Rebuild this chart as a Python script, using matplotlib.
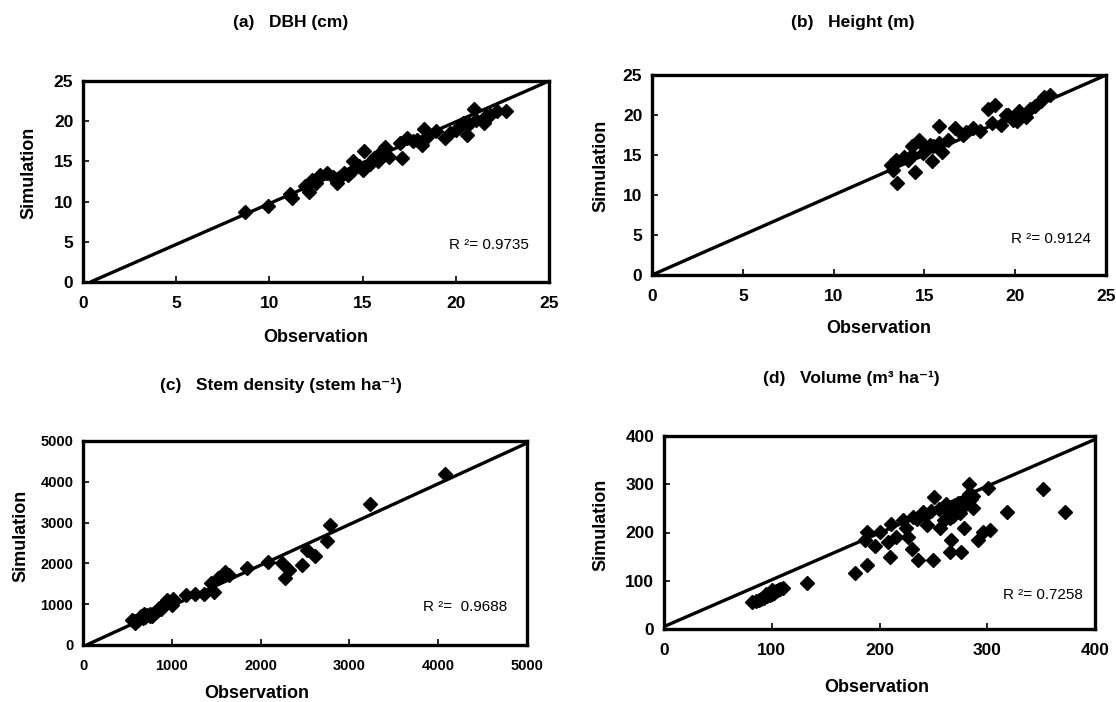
import matplotlib
matplotlib.use("Agg")
import matplotlib.pyplot as plt

plt.rcParams["font.family"] = ["Liberation Sans", "DejaVu Sans"]

# (a) DBH (cm)
dbh_obs = [8.7, 9.9, 11.2, 11.1, 11.9, 12.1, 12.3, 12.7, 13.1, 13.6, 13.8, 14.0,
           14.2, 14.5, 14.5, 14.8, 15.0, 15.1, 15.4, 15.8, 16.2, 16.4, 17.1, 17.0,
           17.4, 17.7, 18.2, 18.3, 18.5, 18.95, 19.4, 19.7, 20.0, 20.2, 20.6, 20.7,
           21.0, 21.1, 21.5, 21.85, 22.2, 22.7, 21.6, 20.4, 17.9, 15.8, 15.6, 13.4, 12.5]
dbh_sim = [8.75, 9.4, 10.4, 10.9, 11.9, 11.25, 12.7, 13.3, 13.6, 12.3, 13.0, 13.5,
           13.25, 13.9, 15.0, 14.4, 13.9, 16.25, 14.7, 15.0, 16.75, 15.6, 15.4, 17.25,
           17.9, 17.5, 17.1, 19.0, 18.1, 18.75, 17.9, 18.5, 18.96, 19.4, 18.3, 19.6,
           21.5, 20.2, 19.8, 20.8, 21.25, 21.25, 20.6, 19.8, 17.7, 15.8, 15.4, 13.0, 12.3]
dbh_line_x = [0.4, 25.0]
dbh_line_y = [0.0, 25.0]

# (b) Height (m)
ht_obs = [13.5, 14.5, 15.4, 13.15, 13.45, 13.85, 14.3, 14.3, 14.7, 15.0, 15.3, 15.8,
          15.8, 15.99, 16.3, 16.7, 17.1, 17.7, 18.05, 18.5, 18.9, 18.7, 19.2, 19.5,
          19.9, 20.2, 20.6, 20.8, 21.4, 21.6, 21.9, 21.1, 20.1, 17.3, 14.9, 14.1,
          13.25, 15.5, 19.6]
ht_sim = [11.56, 12.9, 14.2, 13.7, 14.4, 14.8, 15.0, 16.1, 16.9, 16.1, 16.3, 18.6,
          16.5, 15.4, 16.9, 18.4, 17.5, 18.4, 17.95, 20.7, 21.3, 19.0, 18.8, 20.0,
          19.4, 20.45, 19.8, 20.7, 21.7, 22.3, 22.5, 21.1, 19.2, 17.9, 15.2, 14.4,
          13.1, 16.1, 20.0]
ht_line_x = [0.0, 25.0]
ht_line_y = [0.0, 25.0]

# (c) Stem density (stem ha-1)
sd_obs = [4075, 3230, 2776, 2748, 2607, 2526, 2466, 2245, 2277, 2325, 2084, 1842,
          1641, 1601, 1521, 1440, 1480, 1360, 1259, 1159, 1018, 998, 950, 900, 880,
          850, 820, 800, 780, 750, 720, 700, 680, 650, 620, 600, 570, 550, 580, 960,
          920, 860, 1010, 690, 760]
sd_sim = [4191, 3465, 2937, 2541, 2170, 2335, 1964, 2005, 1634, 1840, 2046, 1881,
          1716, 1798, 1633, 1510, 1303, 1262, 1246, 1221, 1138, 973, 1100, 950, 880,
          850, 800, 780, 720, 700, 740, 680, 650, 700, 620, 580, 600, 620, 550, 1050,
          1000, 900, 1080, 760, 760]
sd_line_x = [40, 5000]
sd_line_y = [0, 4950]

# (d) Volume (m3 ha-1)
vol_obs = [82, 85, 88, 90, 93, 96, 98, 100, 102, 104, 106, 108, 110, 95, 100, 133,
           177, 188, 188, 187, 196, 200, 210, 211, 208, 215, 225, 226, 230, 231, 236,
           240, 244, 251, 250, 256, 262, 265, 268, 266, 265, 275, 278, 278, 276, 283,
           285, 287, 283, 291, 296, 301, 303, 318, 352, 372, 222, 235, 242, 248, 255,
           260, 270, 273, 280, 287, 260, 265, 272]
vol_sim = [55, 57, 60, 62, 65, 68, 70, 73, 75, 78, 80, 82, 85, 72, 80, 95, 117, 133,
           202, 185, 171, 202, 150, 217, 181, 191, 209, 191, 165, 233, 143, 242, 215,
           274, 143, 209, 260, 245, 235, 184, 160, 240, 255, 209, 159, 301, 270, 250,
           280, 184, 202, 293, 205, 243, 291, 243, 225, 228, 235, 245, 248, 252, 258,
           262, 265, 275, 225, 230, 248]
vol_line_x = [0, 400]
vol_line_y = [5, 393]

W, H = 1116.0, 702.0


def px(x, y):
    """figure pixel (from top-left) to figure fraction"""
    return x / W, 1 - y / H


panels = [
    dict(title="(a)   DBH (cm)", obs=dbh_obs, sim=dbh_sim, lx=dbh_line_x, ly=dbh_line_y,
         lim=25, ticks=[0, 5, 10, 15, 20, 25], r2="R ²= 0.9735",
         box=(83, 81, 549, 282), tsize=12.5,
         tpos=(291, 22), xlab=(316, 337), ylab=(29, 173), r2pos=(0.957, 0.184)),
    dict(title="(b)   Height (m)", obs=ht_obs, sim=ht_sim, lx=ht_line_x, ly=ht_line_y,
         lim=25, ticks=[0, 5, 10, 15, 20, 25], r2="R ²= 0.9124",
         box=(652, 75, 1106, 275), tsize=12.5,
         tpos=(853, 23), xlab=(879, 328), ylab=(601, 166), r2pos=(0.967, 0.18)),
    dict(title="(c)   Stem density (stem ha⁻¹)", obs=sd_obs, sim=sd_sim, lx=sd_line_x,
         ly=sd_line_y, lim=5000, ticks=[0, 1000, 2000, 3000, 4000, 5000],
         r2="R ²=  0.9688", box=(83, 441, 527, 645), tsize=10.5,
         tpos=(281, 385), xlab=(257, 693), ylab=(21, 536), r2pos=(0.955, 0.186)),
    dict(title="(d)   Volume (m³ ha⁻¹)", obs=vol_obs, sim=vol_sim, lx=vol_line_x,
         ly=vol_line_y, lim=400, ticks=[0, 100, 200, 300, 400], r2="R ²= 0.7258",
         box=(664, 436, 1095, 629), tsize=12.5,
         tpos=(851, 378), xlab=(877, 688), ylab=(601, 525), r2pos=(0.972, 0.176)),
]

fig = plt.figure(figsize=(11.16, 7.02), dpi=100)

for p in panels:
    x0, y0, x1, y1 = p["box"]
    ax = fig.add_axes([x0 / W, 1 - y1 / H, (x1 - x0) / W, (y1 - y0) / H])
    ax.plot(p["lx"], p["ly"], color="black", lw=2.4, solid_capstyle="butt")
    ax.plot(p["obs"], p["sim"], ls="none", marker="D", ms=7, color="black")
    ax.set_xlim(0, p["lim"])
    ax.set_ylim(0, p["lim"])
    ax.set_xticks(p["ticks"])
    ax.set_yticks(p["ticks"])
    for s in ax.spines.values():
        s.set_linewidth(2.4)
    ax.tick_params(direction="in", length=4, width=1.2, labelsize=p["tsize"])
    ax.tick_params(axis="x", pad=10)
    ax.tick_params(axis="y", pad=7)
    for lab in ax.get_xticklabels() + ax.get_yticklabels():
        lab.set_fontweight("bold")
    ax.text(p["r2pos"][0], p["r2pos"][1], p["r2"], transform=ax.transAxes,
            ha="right", va="center", fontsize=11)
    fig.text(*px(*p["tpos"]), p["title"], ha="center", va="center",
             fontsize=12.5, fontweight="bold")
    fig.text(*px(*p["xlab"]), "Observation", ha="center", va="center",
             fontsize=13, fontweight="bold")
    fig.text(*px(*p["ylab"]), "Simulation", ha="center", va="center",
             fontsize=13, fontweight="bold", rotation=90)

fig.savefig("out.png", dpi=100)
